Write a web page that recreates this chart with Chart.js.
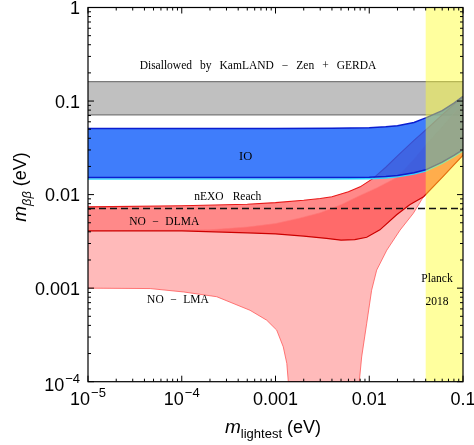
<!DOCTYPE html>
<html><head><meta charset="utf-8">
<script src="https://cdn.jsdelivr.net/npm/chart.js@4"></script>
<style>html,body{margin:0;padding:0;background:#fff}#wrap{width:474px;height:445px;position:relative}</style>
</head><body><div id="wrap"><canvas id="c" width="474" height="445"></canvas></div>
<script>
// ---- axes ----
const xRange = [1e-5, 0.1];
const yRange = [1e-4, 1];
const xTicks = [1e-5, 1e-4, 1e-3, 1e-2, 1e-1];
const xTickLabels = [['10','−5'], ['10','−4'], ['0.001',''], ['0.01',''], ['0.1','']];
const yTicks = [1e-4, 1e-3, 1e-2, 1e-1, 1];
const yTickLabels = [['10','−4'], ['0.001',''], ['0.01',''], ['0.1',''], ['1','']];

// ---- KamLAND-Zen + GERDA excluded band ----
const kamX = [1e-5, 0.1];
const kamHi = [0.161, 0.161];
const kamLo = [0.071, 0.071];

// ---- nEXO reach ----
const nexoX = [1e-5, 0.1];
const nexoY = [0.0071, 0.0071];

// ---- Planck 2018 ----
const planckX = [0.04, 0.1];

// ---- Inverted ordering ----
const ioX  = [1e-5, 1e-3, 4e-3, 0.01, 0.015, 0.02, 0.03, 0.04, 0.06, 0.08, 0.1];
const ioHi = [0.051, 0.051, 0.0512, 0.0518, 0.0531, 0.0545, 0.059, 0.066, 0.079, 0.095, 0.112];
const ioLo = [0.0152, 0.0152, 0.0152, 0.0153, 0.0156, 0.0160, 0.0171, 0.0184, 0.0222, 0.0262, 0.0302];
const ioLoEdge = [0.0147, 0.0147, 0.0147, 0.0148, 0.0151, 0.0155, 0.0166, 0.0179, 0.0216, 0.0255, 0.0294];

// ---- Normal ordering, dark LMA ----
const dlHiX = [1e-5, 1e-4, 5e-4, 1e-3, 2e-3, 3e-3, 4e-3, 6e-3, 8e-3, 0.011, 0.015, 0.02, 0.03, 0.04, 0.06, 0.1];
const dlHi  = [0.0074, 0.0076, 0.0079, 0.0082, 0.0087, 0.0091, 0.0095, 0.0107, 0.0121, 0.0149, 0.0196, 0.026, 0.038, 0.049, 0.071, 0.112];
const dlLoX = [1e-5, 1e-4, 5e-4, 1e-3, 2e-3, 3.5e-3, 5e-3, 7e-3, 9.4e-3, 0.013, 0.0196, 0.027, 0.038, 0.06, 0.1];
const dlLo  = [0.0041, 0.0041, 0.0039, 0.0038, 0.0036, 0.0034, 0.00326, 0.0033, 0.0035, 0.0042, 0.0061, 0.0078, 0.0095, 0.0153, 0.0264];

// ---- Normal ordering, LMA ----
const lmHiX = [1e-5, 2e-4, 5e-4, 1e-3, 1.8e-3, 3e-3, 5e-3, 8e-3, 0.012, 0.0196, 0.03, 0.04, 0.06, 0.1];
const lmHi  = [0.0041, 0.0042, 0.0045, 0.0049, 0.0056, 0.0064, 0.0078, 0.0098, 0.0118, 0.0152, 0.024, 0.034, 0.053, 0.097];
const lmLoX = [1e-5, 4.6e-5, 1.05e-4, 2.36e-4, 5.35e-4, 8.05e-4, 1.03e-3, 1.21e-3, 1.32e-3, 1.37e-3, 7.83e-3, 8.3e-3, 9.4e-3, 0.0106, 0.012, 0.0154, 0.0213, 0.0295, 0.0378, 0.06, 0.1];
const lmLo  = [0.001, 0.00099, 0.00091, 0.00081, 0.00058, 0.000455, 0.000356, 0.000236, 0.000157, 1e-4, 1e-4, 1.84e-4, 4.22e-4, 9.5e-4, 1.56e-3, 2.55e-3, 4.17e-3, 6.3e-3, 9.46e-3, 0.0153, 0.0264];

// ---- text labels (data coordinates) ----
const labelText = [['Disallowed','by','KamLAND','−','Zen','+','GERDA'], ['IO'], ['nEXO','Reach'], ['NO','−','DLMA'], ['NO','−','LMA'], ['Planck'], ['2018']];
const labelX = [6.5e-4, 4.8e-4, 3.1e-4, 6.5e-5, 9.1e-5, 0.0528, 0.0528];
const labelY = [0.237, 0.0252, 0.0094, 0.00512, 0.00074, 0.00125, 0.00071];

// ---- helpers ----
const pts = (xs, ys) => xs.map((x, i) => ({x: x, y: ys[i]}));
const poly = (xh, yh, xl, yl) => pts(xh, yh).concat(pts(xl, yl).reverse());

function fillSet(data, color, order) {
  return {data, fill: 'shape', backgroundColor: color, borderWidth: 0, pointRadius: 0, tension: 0, order};
}
function lineSet(data, color, width, order, dash) {
  return {data, fill: false, borderColor: color, borderWidth: width, pointRadius: 0, tension: 0, order, borderDash: dash || []};
}

const datasets = [
  fillSet(poly(kamX, kamHi, kamX, kamLo), '#c0c0c0', 30),
  lineSet(pts(kamX, kamHi), '#7a7a7a', 1.2, 29),
  lineSet(pts(kamX, kamLo), '#7a7a7a', 1.2, 29),
  fillSet(poly(lmHiX, lmHi, lmLoX, lmLo), 'rgba(255,110,110,0.48)', 28),
  fillSet(poly(dlHiX, dlHi, dlLoX, dlLo), 'rgba(255,40,40,0.55)', 27),
  lineSet(pts(lmLoX, lmLo), 'rgba(255,90,90,0.9)', 0.9, 26),
  lineSet(pts(lmHiX, lmHi), 'rgba(255,120,120,0.8)', 0.8, 26),
  lineSet(pts(dlHiX, dlHi), '#e81818', 1.1, 25),
  lineSet(pts(dlLoX, dlLo), '#cc0000', 1.2, 25),
  fillSet(poly(ioX, ioHi, ioX, ioLo), 'rgba(15,92,250,0.8)', 20),
  lineSet(pts(ioX, ioLoEdge), '#33d6ff', 1.6, 19),
  lineSet(pts(ioX, ioHi), '#0a1ed0', 1.5, 18),
  lineSet(pts(ioX, ioLo), '#0a1ed0', 1.5, 18),
  fillSet(poly(planckX, [yRange[1], yRange[1]], planckX, [yRange[0], yRange[0]]), 'rgba(255,255,40,0.45)', 5),
  lineSet(pts(nexoX, nexoY), '#111', 1.4, 4, [7, 4])
];

function drawSup(ctx, base, sup, x, y, align) {
  ctx.font = '18px "Liberation Sans", Arial, sans-serif';
  const wb = ctx.measureText(base).width;
  ctx.font = '13px "Liberation Sans", Arial, sans-serif';
  const ws = sup ? ctx.measureText(sup).width + 1 : 0;
  const total = wb + ws;
  let x0 = align === 'right' ? x - total : x - total / 2;
  ctx.textAlign = 'left';
  ctx.textBaseline = 'alphabetic';
  ctx.font = '18px "Liberation Sans", Arial, sans-serif';
  ctx.fillText(base, x0, y);
  if (sup) {
    ctx.font = '13px "Liberation Sans", Arial, sans-serif';
    ctx.fillText(sup, x0 + wb + 1, y - 8);
  }
}

function drawTokens(ctx, tokens, cx, cy, gap) {
  const ws = tokens.map(t => ctx.measureText(t).width);
  const total = ws.reduce((a, b) => a + b, 0) + gap * (tokens.length - 1);
  let x = cx - total / 2;
  ctx.textAlign = 'left';
  ctx.textBaseline = 'middle';
  tokens.forEach((t, i) => { ctx.fillText(t, x, cy); x += ws[i] + gap; });
}

function drawRich(ctx, parts, cx, baseline) {
  let total = 0;
  parts.forEach(p => { ctx.font = p.font; p.w = ctx.measureText(p.t).width; total += p.w; });
  let x = cx - total / 2;
  ctx.textAlign = 'left'; ctx.textBaseline = 'alphabetic';
  parts.forEach(p => { ctx.font = p.font; ctx.fillText(p.t, x, baseline + (p.dy || 0)); x += p.w; });
}

const deco = {
  id: 'deco',
  afterDraw(chart) {
    const ctx = chart.ctx, a = chart.chartArea, xs = chart.scales.x, ys = chart.scales.y;
    ctx.save();
    ctx.fillStyle = '#000'; ctx.strokeStyle = '#000';
    ctx.lineWidth = 1.2;
    ctx.strokeRect(a.left, a.top, a.right - a.left, a.bottom - a.top);
    ctx.lineWidth = 1;
    const logTicks = (min, max) => {
      const out = [];
      for (let e = Math.floor(Math.log10(min)); e <= Math.ceil(Math.log10(max)); e++) {
        for (let m = 1; m < 10; m++) {
          const v = m * Math.pow(10, e);
          if (v >= min * 0.999 && v <= max * 1.001) out.push({v, major: m === 1});
        }
      }
      return out;
    };
    ctx.beginPath();
    logTicks(xRange[0], xRange[1]).forEach(t => {
      const p = xs.getPixelForValue(t.v), L = t.major ? 6 : 3;
      ctx.moveTo(p, a.bottom); ctx.lineTo(p, a.bottom - L);
      ctx.moveTo(p, a.top); ctx.lineTo(p, a.top + L);
    });
    logTicks(yRange[0], yRange[1]).forEach(t => {
      const p = ys.getPixelForValue(t.v), L = t.major ? 6 : 3;
      ctx.moveTo(a.left, p); ctx.lineTo(a.left + L, p);
      ctx.moveTo(a.right, p); ctx.lineTo(a.right - L, p);
    });
    ctx.stroke();
    xTicks.forEach((v, i) => {
      drawSup(ctx, xTickLabels[i][0], xTickLabels[i][1], xs.getPixelForValue(v), a.bottom + 23, 'center');
    });
    yTicks.forEach((v, i) => {
      const sup = yTickLabels[i][1];
      drawSup(ctx, yTickLabels[i][0], sup, a.left - 8, ys.getPixelForValue(v) + (sup ? 9 : 6.5), 'right');
    });
    drawRich(ctx, [
      {t: 'm', font: 'italic 19px "Liberation Sans", Arial, sans-serif'},
      {t: 'lightest', font: '13px "Liberation Sans", Arial, sans-serif', dy: 5},
      {t: ' (eV)', font: '18px "Liberation Sans", Arial, sans-serif'}
    ], 273, 433);
    ctx.save();
    ctx.translate(26, 187);
    ctx.rotate(-Math.PI / 2);
    drawRich(ctx, [
      {t: 'm', font: 'italic 19px "Liberation Sans", Arial, sans-serif'},
      {t: 'ββ', font: 'italic 13px "Liberation Sans", Arial, sans-serif', dy: 5},
      {t: ' (eV)', font: '18px "Liberation Sans", Arial, sans-serif'}
    ], 0, 0);
    ctx.restore();
    ctx.fillStyle = '#000';
    labelText.forEach((tok, i) => {
      const big = i === 1;
      ctx.font = (big ? '12.5px' : '11.5px') + ' "Liberation Serif", "Times New Roman", serif';
      const gap = i === 0 ? 8 : (i === 2 ? 9 : 6.5);
      drawTokens(ctx, tok, xs.getPixelForValue(labelX[i]), ys.getPixelForValue(labelY[i]), gap);
    });
    ctx.restore();
  }
};

new Chart(document.getElementById('c'), {
  type: 'line',
  data: {datasets},
  options: {
    responsive: false,
    animation: false,
    devicePixelRatio: 1,
    layout: {padding: {left: 88, top: 7.5, right: 11, bottom: 63.3}},
    plugins: {legend: {display: false}, tooltip: {enabled: false}},
    scales: {
      x: {type: 'logarithmic', min: xRange[0], max: xRange[1], display: false},
      y: {type: 'logarithmic', min: yRange[0], max: yRange[1], display: false}
    }
  },
  plugins: [deco]
});
</script>
</body></html>
